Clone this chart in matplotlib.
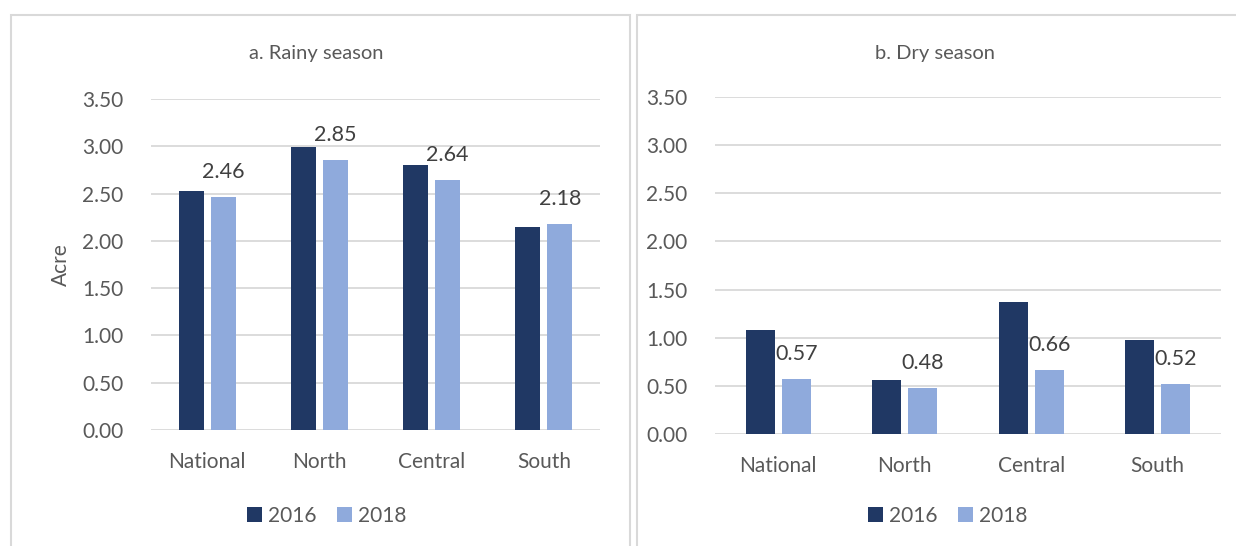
import numpy as np
import matplotlib
matplotlib.use("Agg")
from matplotlib import pyplot as plt
from matplotlib.patches import Rectangle

plt.rcParams['font.family'] = ['Lato', 'DejaVu Sans']

regions = ["National", "North", "Central", "South"]
years = ["2016", "2018"]
rainy_2016 = [2.53, 2.99, 2.80, 2.15]
rainy_2018 = [2.46, 2.85, 2.64, 2.18]
dry_2016 = [1.08, 0.56, 1.37, 0.98]
dry_2018 = [0.57, 0.48, 0.66, 0.52]
yticks = [0.0, 0.5, 1.0, 1.5, 2.0, 2.5, 3.0, 3.5]

dark = "#203864"
light = "#8FAADC"
grid = "#D9D9D9"
txt = "#595959"

W, H = 1236, 546
fig = plt.figure(figsize=(W / 100, H / 100), dpi=100)


def px_axes(x0, x1, ytop, ybot):
    # pixel box (from top-left) -> figure fraction
    return fig.add_axes([x0 / W, (H - ybot) / H, (x1 - x0) / W, (ybot - ytop) / H])


# panel frames
fig.patches.append(Rectangle((11 / W, -0.1), (630 - 11) / W, (H - 15) / H + 0.1,
                             transform=fig.transFigure, fill=False,
                             edgecolor=grid, linewidth=1.5))
fig.patches.append(Rectangle((637 / W, -0.1), 0.6, (H - 15) / H + 0.1,
                             transform=fig.transFigure, fill=False,
                             edgecolor=grid, linewidth=1.5))


def draw_panel(ax, v16, v18, title, title_x, legend_x, bw, ylabel=None):
    x = np.arange(len(regions))
    off = 0.143
    b1 = ax.bar(x - off, v16, bw, color=dark, label=years[0], zorder=3)
    b2 = ax.bar(x + off, v18, bw, color=light, label=years[1], zorder=3)
    ax.bar_label(b2, labels=["%.2f" % v for v in v18], padding=11,
                 fontsize=15.5, color="#404040", zorder=5)
    ax.set_xlim(-0.5, len(regions) - 0.5)
    ax.set_ylim(0, 3.5)
    ax.set_yticks(yticks)
    ax.set_yticklabels(["%.2f" % t for t in yticks])
    ax.set_xticks(x)
    ax.set_xticklabels(regions)
    ax.tick_params(length=0, labelsize=15, colors=txt)
    ax.tick_params(axis="y", pad=20)
    ax.tick_params(axis="x", pad=16)
    for s in ax.spines.values():
        s.set_visible(False)
    ax.yaxis.grid(True, color=grid, linewidth=1.3, zorder=0)
    ax.set_axisbelow(True)
    ax.set_facecolor("none")
    if ylabel:
        ax.set_ylabel(ylabel, fontsize=15, color=txt, labelpad=8)
    fig.text(title_x / W, (H - 53) / H, title, ha="center", va="center",
             fontsize=14.5, color=txt)
    fig.legend(handles=[b1, b2], loc="center", bbox_to_anchor=(legend_x / W, (H - 516) / H),
               ncol=2, frameon=False, fontsize=15, labelcolor=txt,
               handlelength=0.7, handleheight=0.7, handletextpad=0.3,
               columnspacing=1.0)


ax1 = px_axes(151, 600, 99, 430)
draw_panel(ax1, rainy_2016, rainy_2018, "a. Rainy season", 316, 327, 0.223, ylabel="Acre")

ax2 = px_axes(715, 1221, 97, 434)
draw_panel(ax2, dry_2016, dry_2018, "b. Dry season", 935, 948, 0.23)

fig.savefig("out.png", dpi=100, facecolor="white")
